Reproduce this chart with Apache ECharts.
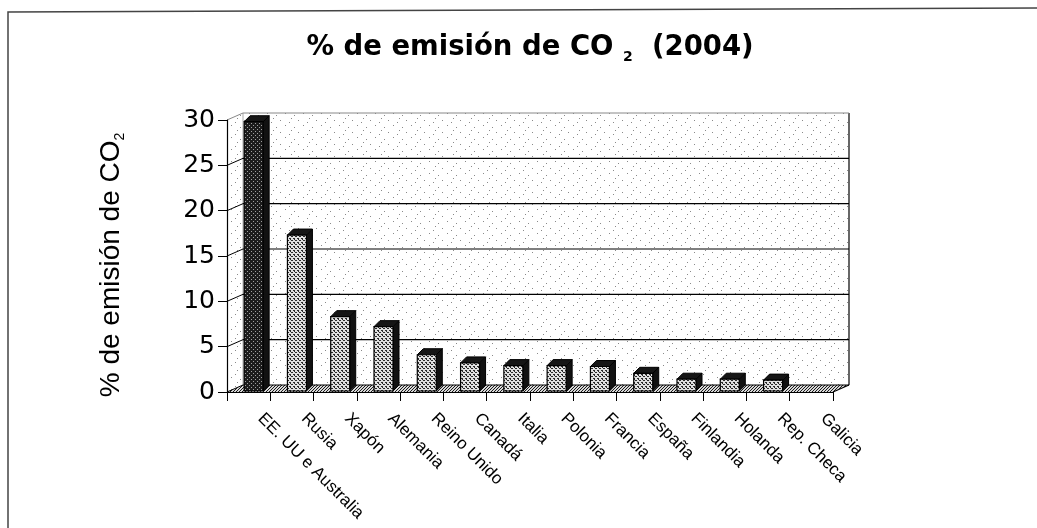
<!DOCTYPE html>
<html>
<head>
<meta charset="utf-8">
<script src="https://cdn.jsdelivr.net/npm/echarts@6/dist/echarts.min.js"></script>
<style>
  html, body { margin: 0; padding: 0; background: #fff; }
  #chart { width: 1037px; height: 528px; }
</style>
</head>
<body>
<div id="chart"></div>
<script>
const categories = ['EE. UU e Australia', 'Rusia', 'Xapón', 'Alemania', 'Reino Unido', 'Canadá', 'Italia', 'Polonia', 'Francia', 'España', 'Finlandia', 'Holanda', 'Rep. Checa', 'Galicia']
const emissions = [29.7, 17.2, 8.2, 7.1, 4.0, 3.1, 2.8, 2.8, 2.7, 1.95, 1.3, 1.3, 1.2, 0]
const yTicks = [0, 5, 10, 15, 20, 25, 30]

const FONT = 'Liberation Sans, Arial, sans-serif'
const WIDE = 'DejaVu Sans, sans-serif'
const DX = 16, DY = -7   // depth of the 3d box
const BAR_W = 19, BAR_D = 6

// small dot textures like the old printed chart
function dots (w, h, bg, fg, pts) {
  const c = document.createElement('canvas')
  c.width = w; c.height = h
  const g = c.getContext('2d')
  g.fillStyle = bg; g.fillRect(0, 0, w, h)
  g.fillStyle = fg
  pts.forEach(p => g.fillRect(p[0], p[1], 1, 1))
  return { image: c, repeat: 'repeat' }
}
const wallFill = dots(18, 12, '#ffffff', '#8a8a8a', [[1, 2], [10, 0], [6, 7], [15, 5], [3, 10]])
const floorFill = dots(3, 3, '#d8d8d8', '#1a1a1a', [[0, 0], [2, 1], [1, 2]])
const lightFill = dots(4, 4, '#e0e0e0', '#2a2a2a', [[0, 0], [2, 2], [3, 0], [1, 2], [2, 3]])
const darkFill = dots(4, 4, '#1c1c1c', '#a0a0a0', [[1, 1], [3, 3]])

function renderWalls (params, api) {
  const cs = params.coordSys
  const x0 = cs.x, x1 = cs.x + cs.width
  const yb = api.coord([0, 0])[1]
  const yt = api.coord([0, yTicks[yTicks.length - 1]])[1]
  const kids = [
    { type: 'polygon', shape: { points: [[x0, yt], [x0 + DX, yt + DY], [x0 + DX, yb + DY], [x0, yb]] }, style: { fill: wallFill } },
    { type: 'polygon', shape: { points: [[x0 + DX, yt + DY], [x1 + DX, yt + DY], [x1 + DX, yb + DY], [x0 + DX, yb + DY]] }, style: { fill: wallFill } },
    { type: 'polygon', shape: { points: [[x0, yb], [x1, yb], [x1 + DX, yb + DY], [x0 + DX, yb + DY]] }, style: { fill: floorFill } },
    { type: 'line', shape: { x1: x0 + DX, y1: yt + DY, x2: x0 + DX, y2: yb + DY }, style: { stroke: '#aaa', lineWidth: 1 } },
    { type: 'line', shape: { x1: x1 + DX, y1: yt + DY, x2: x1 + DX, y2: yb + DY }, style: { stroke: '#000', lineWidth: 1.2 } },
    { type: 'line', shape: { x1: x1, y1: yb, x2: x1 + DX, y2: yb + DY }, style: { stroke: '#000', lineWidth: 1.2 } }
  ]
  yTicks.forEach((v, k) => {
    const y = api.coord([0, v])[1]
    const top = k === yTicks.length - 1
    kids.push({ type: 'line', shape: { x1: x0 + DX, y1: y + DY, x2: x1 + DX, y2: y + DY }, style: { stroke: top ? '#888' : '#000', lineWidth: top ? 1 : 1.2 } })
    kids.push({ type: 'line', shape: { x1: x0, y1: y, x2: x0 + DX, y2: y + DY }, style: { stroke: top ? '#888' : '#000', lineWidth: 1 } })
  })
  return { type: 'group', children: kids }
}

function renderBar (params, api) {
  const i = api.value(0), v = api.value(1)
  if (!(v > 0)) return
  const top = api.coord([i, v])
  const base = api.coord([i, 0])
  const xl = top[0] - 4.5
  const xr = xl + BAR_W
  const yt = top[1] - 1, yb = base[1] - 1
  return {
    type: 'group',
    children: [
      { type: 'polygon', shape: { points: [[xr, yt], [xr + BAR_D, yt - BAR_D], [xr + BAR_D, yb - BAR_D], [xr, yb]] }, style: { fill: '#111', stroke: '#000', lineWidth: 1 } },
      { type: 'polygon', shape: { points: [[xl, yt], [xl + BAR_D, yt - BAR_D], [xr + BAR_D, yt - BAR_D], [xr, yt]] }, style: { fill: '#151515', stroke: '#000', lineWidth: 1 } },
      { type: 'rect', shape: { x: xl, y: yt, width: BAR_W, height: yb - yt }, style: { fill: i === 0 ? darkFill : lightFill, stroke: '#000', lineWidth: 1.2 } }
    ]
  }
}

const chart = echarts.init(document.getElementById('chart'), null, { renderer: 'canvas' })

chart.setOption({
  animation: false,
  backgroundColor: '#fff',
  title: {
    text: '{m|% de emisión de CO }{s|2}{m|  (2004)}',
    left: 525,
    top: 29,
    textAlign: 'center',
    textStyle: {
      rich: {
        m: { fontSize: 27.5, fontWeight: 'bold', fontFamily: WIDE, color: '#000', verticalAlign: 'bottom', padding: [0, 0, 2, 0] },
        s: { fontSize: 14, fontWeight: 'bold', fontFamily: WIDE, color: '#000', verticalAlign: 'bottom' }
      }
    }
  },
  graphic: [
    { type: 'polyline', shape: { points: [[8, 528], [8, 12], [1037, 8]] }, style: { stroke: '#444', lineWidth: 1.5, fill: null } }
  ],
  grid: { left: 227, right: 204, top: 120, bottom: 136 },
  xAxis: {
    type: 'category',
    data: categories,
    z: 5,
    axisLine: { lineStyle: { color: '#000', width: 1.2 } },
    axisTick: { show: true, length: 9, lineStyle: { color: '#000' } },
    axisLabel: { rotate: -45, interval: 0, margin: 12, padding: [0, 0, 0, 17], fontSize: 17, fontFamily: FONT, color: '#000' }
  },
  yAxis: {
    type: 'value',
    min: 0,
    max: 30,
    interval: 5,
    z: 5,
    name: '{m|% de emisión de CO}{s|2}',
    nameLocation: 'middle',
    nameRotate: 90,
    nameGap: 100,
    nameTextStyle: {
      padding: [0, 18, 0, 0],
      rich: {
        m: { fontSize: 28, fontFamily: FONT, color: '#000', verticalAlign: 'bottom', padding: [0, 0, 2, 0] },
        s: { fontSize: 14, fontFamily: FONT, color: '#000', verticalAlign: 'bottom' }
      }
    },
    axisLine: { show: true, lineStyle: { color: '#000', width: 1.2 } },
    axisTick: { show: true, length: 9, lineStyle: { color: '#000' } },
    axisLabel: { margin: 12, fontSize: 25, fontFamily: WIDE, color: '#000' },
    splitLine: { show: false }
  },
  series: [
    {
      type: 'custom',
      name: 'walls',
      z: 1,
      clip: false,
      silent: true,
      renderItem: renderWalls,
      data: [[0, 0]]
    },
    {
      type: 'custom',
      name: '% de emisión',
      z: 3,
      clip: false,
      renderItem: renderBar,
      encode: { x: 0, y: 1 },
      data: emissions.map((v, i) => [i, v])
    }
  ]
})
</script>
</body>
</html>
